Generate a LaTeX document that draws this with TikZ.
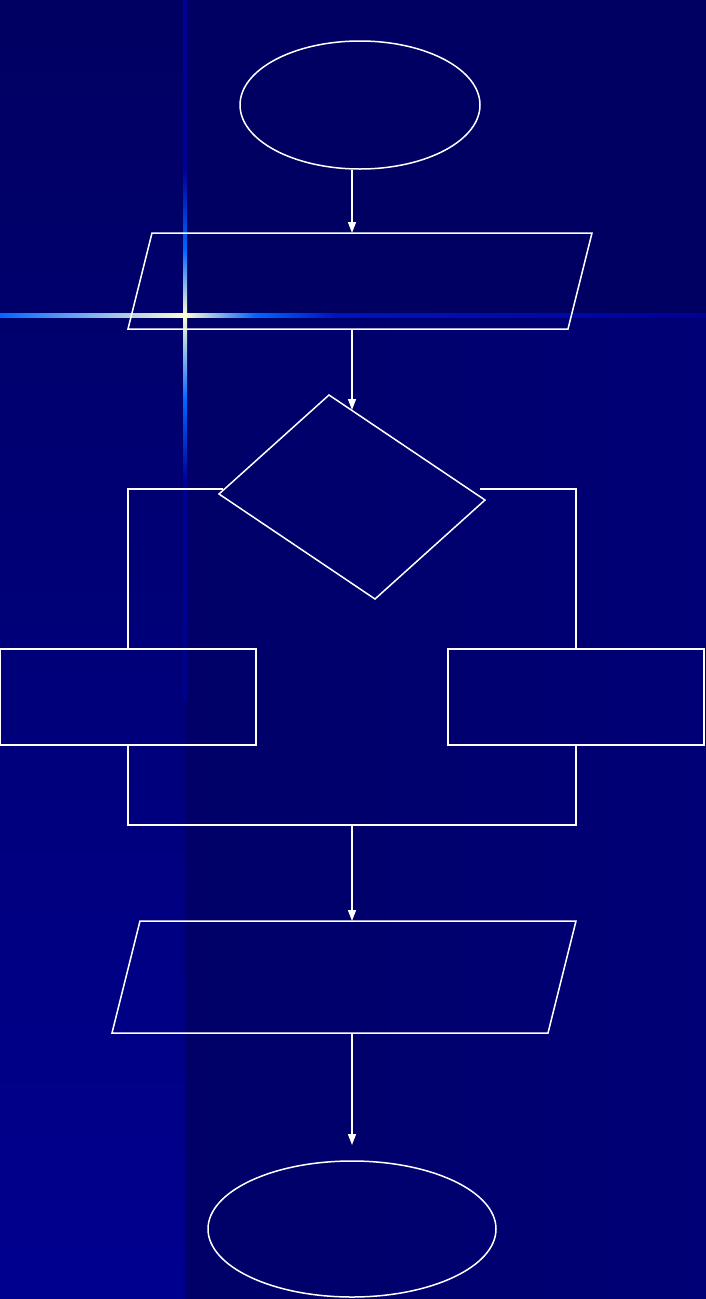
\documentclass[tikz,border=0pt]{standalone}
\usetikzlibrary{shapes.geometric,arrows.meta}
\definecolor{bgtop}{RGB}{0,0,98}
\definecolor{bgmid}{RGB}{0,0,104}
\definecolor{bgright}{RGB}{0,0,118}
\definecolor{stripbot}{RGB}{0,0,143}
\definecolor{glowblue}{RGB}{0,102,255}
\definecolor{glowfaint}{RGB}{0,0,150}
\definecolor{glowdeep}{RGB}{0,20,190}
\definecolor{cream}{RGB}{255,255,210}
\begin{document}
\begin{tikzpicture}[x=1pt,y=-1pt,
  ln/.style={draw=white,line width=1.5pt},
  arr/.style={ln,-{Triangle[length=11pt,width=8pt]}},
  term/.style={ellipse,ln,inner sep=0pt},
  procbox/.style={rectangle,ln,inner sep=0pt,minimum width=256pt,minimum height=96pt}]
\useasboundingbox (0,0) rectangle (706,1299);
% background
\fill[bgtop] (0,0) rectangle (706,1299);
\shade[top color=bgtop,bottom color=stripbot] (0,0) rectangle (185,1299);
\shade[left color=bgmid,right color=bgright] (185,315) rectangle (706,1299);
% sparkle, vertical
\fill[glowfaint] (183,0) rectangle (187,170);
\shade[top color=glowfaint,bottom color=glowblue] (183,170) rectangle (187,250);
\shade[top color=glowblue,bottom color=cream] (183,250) rectangle (187,315);
\shade[top color=cream,bottom color=glowblue] (183,315) rectangle (187,400);
\shade[top color=glowblue,bottom color=glowfaint] (183,400) rectangle (187,480);
\shade[top color=glowfaint,bottom color=stripbot] (183,480) rectangle (187,700);
% sparkle, horizontal
\shade[left color=glowblue,right color=cream] (0,313) rectangle (185,317);
\shade[left color=cream,right color=glowblue] (185,313) rectangle (255,317);
\shade[left color=glowblue,right color=glowdeep] (255,313) rectangle (335,317);
\shade[left color=glowdeep,right color=glowfaint] (335,313) rectangle (706,317);
% start terminal
\node[term,minimum width=240pt,minimum height=128pt] (start) at (360,105) {};
% input parallelogram
\coordinate (pA1) at (152,233); \coordinate (pA2) at (592,233);
\coordinate (pA3) at (568,329); \coordinate (pA4) at (128,329);
\draw[ln] (pA1) -- (pA2) -- (pA3) -- (pA4) -- cycle;
\coordinate (inTop) at (352,233);
\coordinate (inBot) at (352,329);
% decision
\coordinate (dT) at (329,395); \coordinate (dR) at (485,500);
\coordinate (dB) at (375,599); \coordinate (dL) at (219,494);
\draw[ln] (dT) -- (dR) -- (dB) -- (dL) -- cycle;
\coordinate (dIn) at (352,410);
\coordinate (dLout) at (223,489);
\coordinate (dRout) at (480,489);
% branch boxes
\node[procbox] (boxL) at (128,697) {};
\node[procbox] (boxR) at (576,697) {};
% join
\coordinate (joinL) at (128,825);
\coordinate (joinR) at (576,825);
\coordinate (joinM) at (352,825);
% output parallelogram
\coordinate (pB1) at (140,921); \coordinate (pB2) at (576,921);
\coordinate (pB3) at (548,1033); \coordinate (pB4) at (112,1033);
\draw[ln] (pB1) -- (pB2) -- (pB3) -- (pB4) -- cycle;
\coordinate (outTop) at (352,921);
\coordinate (outBot) at (352,1033);
% end terminal
\node[term,minimum width=288pt,minimum height=136pt] (stop) at (352,1229) {};
\coordinate (stopIn) at (352,1145);
% connectors
\draw[arr] (start.south -| inTop) -- (inTop);
\draw[arr] (inBot) -- (dIn);
\draw[ln] (dLout) -| (boxL.north);
\draw[ln] (dRout) -| (boxR.north);
\draw[ln] (boxL.south) |- (joinM) -| (boxR.south);
\draw[arr] (joinM) -- (outTop);
\draw[arr] (outBot) -- (stopIn);
\end{tikzpicture}
\end{document}
